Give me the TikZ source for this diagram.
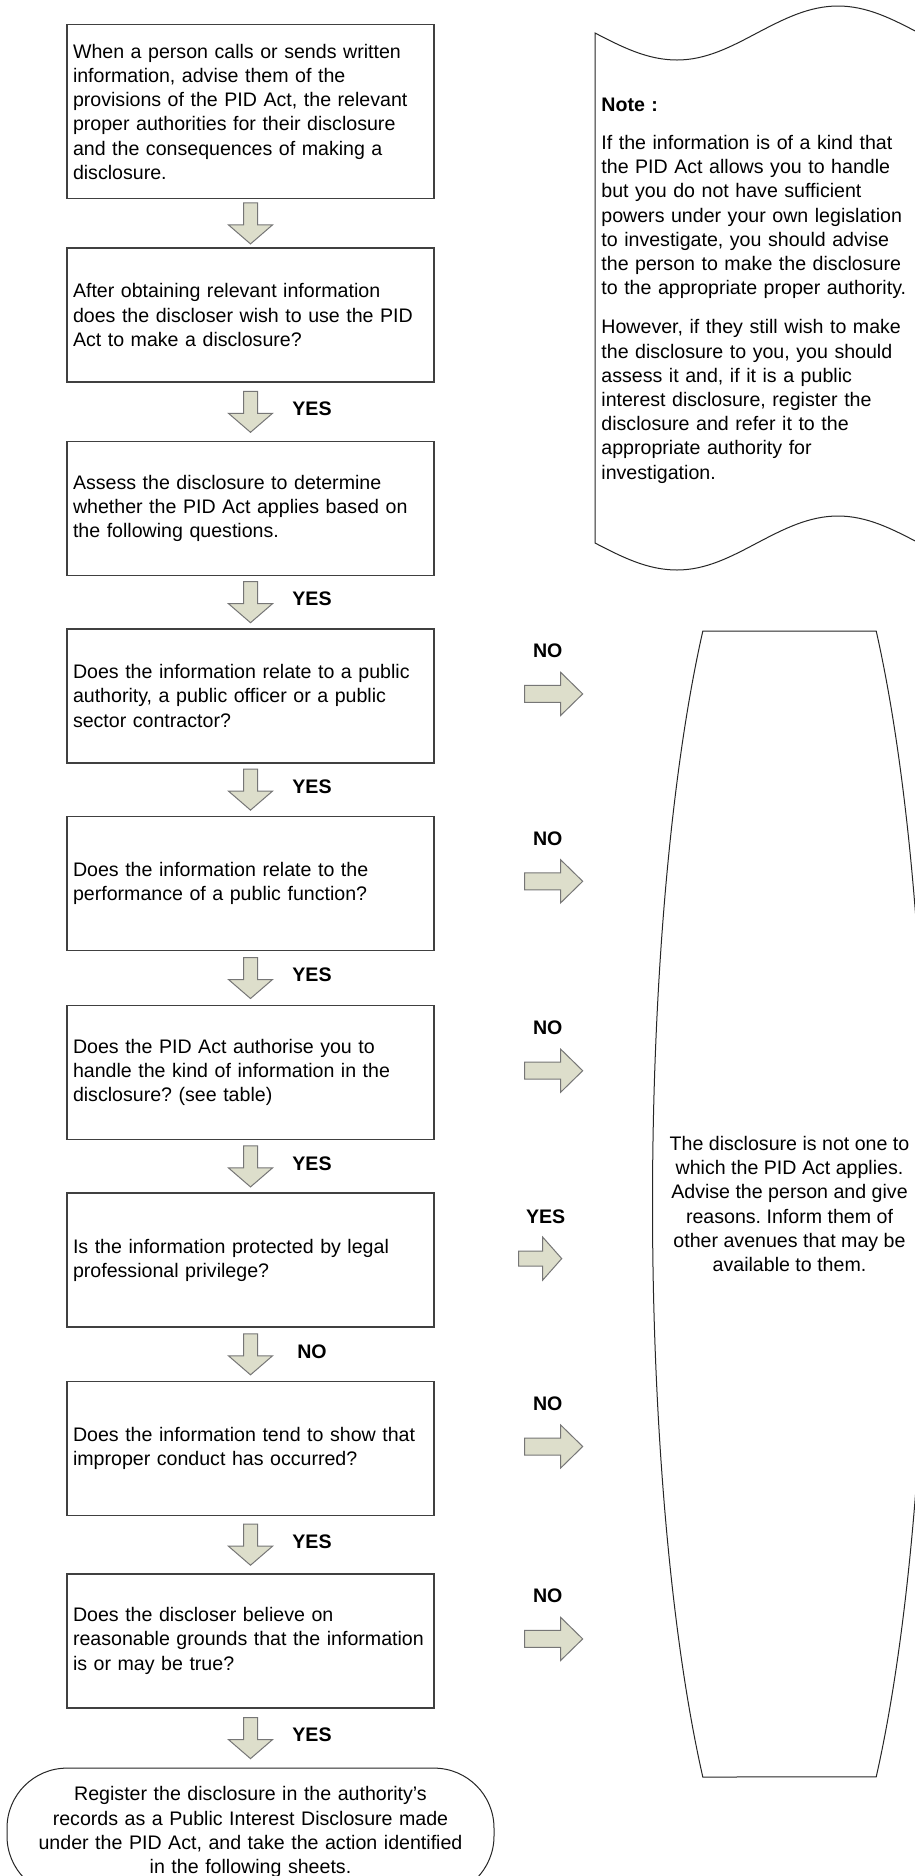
\documentclass[tikz,border=0pt]{standalone}
\usepackage{fontspec}
\setmainfont{Liberation Sans}
\usetikzlibrary{positioning}
\usetikzlibrary{calc}
\definecolor{arrowfill}{RGB}{221,222,203}
\definecolor{arrowline}{RGB}{118,118,118}
\tikzset{x=0.5pt, y=-0.5pt, % one unit is one pixel of the page, y runs down
every node/.style={ % Text of every node
font=\fontsize{9.8pt}{12.1pt}\selectfont\frenchspacing},
stepbox/.style={ % Question boxes of the main column
draw=black!75,
line width=0.7pt,
text width=177.5pt,
inner xsep=3pt,
minimum height=67pt,
align=left},
lbl/.style={font=\fontsize{9.8pt}{12pt}\selectfont\bfseries}, % YES / NO
barrow/.style={draw=arrowline, fill=arrowfill, line width=0.5pt},
outline/.style={draw=black!85, line width=0.5pt},
darrow/.pic={\draw[barrow] (-7,-20.5) -- (-7,1.5) -- (-22,1.5) -- (0,20.5) -- (22,1.5) -- (7,1.5) -- (7,-20.5) -- cycle;},
rarrow/.pic={\draw[barrow] (-29,-8.5) -- (7,-8.5) -- (7,-21.5) -- (29,0) -- (7,21.5) -- (7,8.5) -- (-29,8.5) -- cycle;},
yarrow/.pic={\draw[barrow] (-21.5,-7.5) -- (2.5,-7.5) -- (2.5,-21.5) -- (21.5,0) -- (2.5,21.5) -- (2.5,7.5) -- (-21.5,7.5) -- cycle;}}

\begin{document}
\begin{tikzpicture}
\path[use as bounding box, fill=white] (0,0) rectangle (915,1876);

% main column
\node[stepbox, minimum height=87pt, anchor=north] (ask) at (250.5,24) {When a person calls or sends written\\ information, advise them of the\\ provisions of the PID Act, the relevant\\ proper authorities for their disclosure\\ and the consequences of making a\\ disclosure.};
\node[stepbox, below=24pt of ask] (wish) {After obtaining relevant information\\ does the discloser wish to use the PID\\ Act to make a disclosure?};
\node[stepbox, below=29pt of wish] (assess) {Assess the disclosure to determine\\ whether the PID Act applies based on\\ the following questions.};
\node[stepbox, below=26pt of assess] (relate) {Does the information relate to a public\\ authority, a public officer or a public\\ sector contractor?};
\node[stepbox, below=26pt of relate] (function) {Does the information relate to the\\ performance of a public function?};
\node[stepbox, below=27pt of function] (authorise) {Does the PID Act authorise you to\\ handle the kind of information in the\\ disclosure? (see table)};
\node[stepbox, below=26pt of authorise] (privilege) {Is the information protected by legal\\ professional privilege?};
\node[stepbox, below=26.5pt of privilege] (conduct) {Does the information tend to show that\\ improper conduct has occurred?};
\node[stepbox, below=28.5pt of conduct] (believe) {Does the discloser believe on\\ reasonable grounds that the information\\ is or may be true?};
\node[outline, rounded corners=30pt, minimum width=243.5pt, minimum height=64pt, text width=236pt, align=center, below=29.5pt of believe] (register) {Register the disclosure in the authority’s\\ records as a Public Interest Disclosure made\\ under the PID Act, and take the action identified\\ in the following sheets.};

% arrows down the column
\pic at ($(ask.south)!.5!(wish.north)$) {darrow};
\foreach \a/\b/\t in {wish/assess/YES, assess/relate/YES, relate/function/YES, function/authorise/YES, authorise/privilege/YES, privilege/conduct/NO, conduct/believe/YES, believe/register/YES} {
  \pic at ($(\a.south)!.5!(\b.north)$) {darrow};
  \node[lbl] (down-\a) at ($(\a.south)!.5!(\b.north)+(61.5,-3)$) {\t};
}

% arrows to the right
\foreach \a in {relate, function, authorise, conduct, believe} {
  \pic at ($(\a.east)+(119,-2)$) {rarrow};
  \node[lbl] (side-\a) at ($(\a.east)+(113,-45)$) {NO};
}
\pic at ($(privilege.east)+(105.5,-1.5)$) {yarrow};
\node[lbl] (side-privilege) at ($(privilege.east)+(111,-43.5)$) {YES};

% note (punched tape)
\draw[outline] (595,33) sin (677,60) cos (757,33) sin (838,6) cos (919,33) -- (919,543) sin (838,516) cos (757,543) sin (677,570) cos (595,543) -- cycle;
\node[text width=156pt, align=left, inner sep=2pt, anchor=west] (note) at (597,290.5) {\textbf{Note :}\\[7pt] If the information is of a kind that\\ the PID Act allows you to handle\\ but you do not have sufficient\\ powers under your own legislation\\ to investigate, you should advise\\ the person to make the disclosure\\ to the appropriate proper authority.\\[7.5pt] However, if they still wish to make\\ the disclosure to you, you should\\ assess it and, if it is a public\\ interest disclosure, register the\\ disclosure and refer it to the\\ appropriate authority for\\ investigation.};

% outcome when the Act does not apply
\draw[outline] (702.8,631) -- (876.2,631) arc[start angle=-50.74, end angle=50.74, x radius=137, y radius=740] -- (702.8,1777) arc[start angle=129.26, end angle=230.74, x radius=137, y radius=740] -- cycle;
\node[align=center] (notapply) at (789.5,1204) {The disclosure is not one to\\ which the PID Act applies.\\ Advise the person and give\\ reasons. Inform them of\\ other avenues that may be\\ available to them.};
\end{tikzpicture}
\end{document}
